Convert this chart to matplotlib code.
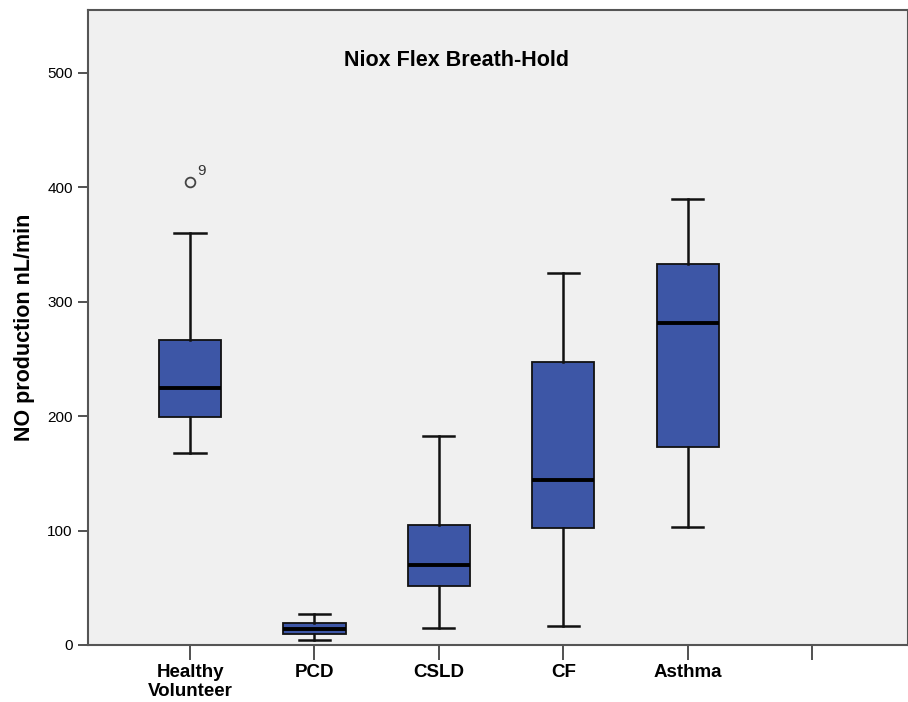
import matplotlib
matplotlib.use("Agg")
from matplotlib import pyplot as plt

groups = ["Healthy\nVolunteer", "PCD", "CSLD", "CF", "Asthma", ""]
whislo = [168, 4, 15, 17, 103]
q1 = [199, 10, 52, 102, 173]
med = [225, 14, 70, 144, 281]
q3 = [267, 19, 105, 247, 333]
whishi = [360, 27, 183, 325, 390]
outliers = [[405], [], [], [], []]
outlier_ids = [["9"], [], [], [], []]

plt.rcParams['font.family'] = ['Liberation Sans', 'DejaVu Sans']

fig = plt.figure(figsize=(9.08, 7.02), dpi=100)
ax = fig.add_axes([88 / 908, 57 / 702, 1 - 88 / 908, 635 / 702])
ax.set_facecolor('#f0f0f0')

stats = []
for i in range(len(med)):
    stats.append({'whislo': whislo[i], 'q1': q1[i], 'med': med[i], 'q3': q3[i],
                  'whishi': whishi[i], 'fliers': outliers[i]})

pos = list(range(1, len(med) + 1))
ax.bxp(stats, positions=pos, widths=0.5, capwidths=0.25, patch_artist=True,
       boxprops=dict(facecolor='#3d56a6', edgecolor='#111111', linewidth=1.3),
       medianprops=dict(color='#000000', linewidth=2.8),
       whiskerprops=dict(color='#111111', linewidth=1.8),
       capprops=dict(color='#111111', linewidth=1.8),
       flierprops=dict(marker='o', markerfacecolor='none', markeredgecolor='#444444',
                       markersize=7, markeredgewidth=1.3))

for i, ids in enumerate(outlier_ids):
    for v, lab in zip(outliers[i], ids):
        ax.annotate(lab, (pos[i], v), xytext=(5, 5), textcoords='offset points',
                    fontsize=11, color='#333333')

ax.set_xlim(0.18, 6.77)
ax.set_ylim(0, 555)
ax.set_xticks(range(1, len(groups) + 1))
ax.set_xticklabels(groups, fontsize=13.5, fontweight='bold', linespacing=1.1)
ax.set_yticks([0, 100, 200, 300, 400, 500])
ax.tick_params(axis='y', labelsize=11, length=7, width=1.2, color='#333333', pad=4)
ax.tick_params(axis='x', length=11, width=1.2, color='#333333', pad=3)
ax.set_ylabel('NO production nL/min', fontsize=15.5, fontweight='bold', labelpad=9)
for s in ['left', 'bottom', 'top', 'right']:
    ax.spines[s].set_color('#555555')
    ax.spines[s].set_linewidth(1.5)

ax.text(0.45, 0.921, 'Niox Flex Breath-Hold', transform=ax.transAxes,
        ha='center', va='center', fontsize=15.5, fontweight='bold')

fig.savefig('out.png', dpi=100)
